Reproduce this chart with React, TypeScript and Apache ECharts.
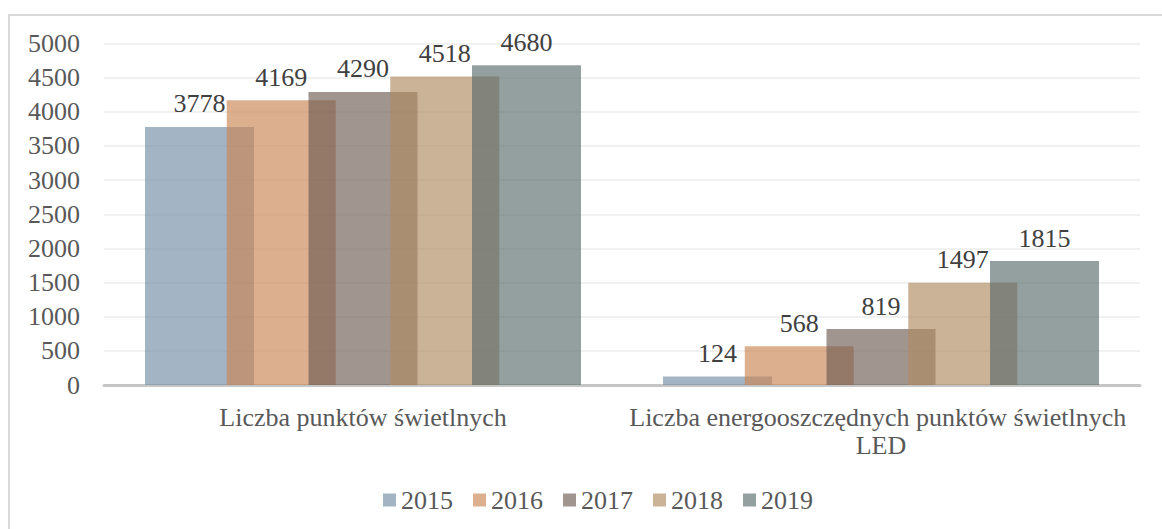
import React, { useEffect, useRef } from "react";
import * as echarts from "echarts";

const categories = [
  "Liczba punktów świetlnych",
  "Liczba energooszczędnych punktów świetlnych LED",
];
const years = ["2015", "2016", "2017", "2018", "2019"];
const values2015 = [3778, 124];
const values2016 = [4169, 568];
const values2017 = [4290, 819];
const values2018 = [4518, 1497];
const values2019 = [4680, 1815];
const seriesValues = [values2015, values2016, values2017, values2018, values2019];
const colors = [
  "rgba(113,140,164,0.65)",
  "rgba(201,132,83,0.65)",
  "rgba(109,92,83,0.65)",
  "rgba(175,138,97,0.65)",
  "rgba(90,107,107,0.65)",
];
const yTicks = { min: 0, max: 5000, interval: 500 };

const FONT = "Liberation Serif";
const FS = 26;

export default function App() {
  const ref = useRef<HTMLDivElement>(null);
  useEffect(() => {
    if (!ref.current) return;
    const chart = echarts.init(ref.current, null, { renderer: "svg" });
    chart.setOption({
      animation: false,
      backgroundColor: "#ffffff",
      color: colors,
      graphic: [
        {
          type: "rect",
          shape: { x: 9, y: 15, width: 1180, height: 540 },
          style: { fill: "none", stroke: "#d9d9d9", lineWidth: 2 },
          silent: true,
          z: -1,
        },
      ],
      legend: {
        data: years,
        left: 378,
        top: 482,
        itemWidth: 13,
        itemHeight: 13,
        itemGap: 20,
        icon: "rect",
        textStyle: { fontFamily: FONT, fontSize: FS, color: "#595959" },
      },
      grid: { left: 104, right: 14, top: 43.5, bottom: 144, containLabel: false },
      xAxis: {
        type: "category",
        data: categories,
        axisLine: { lineStyle: { color: "#c6c6c6", width: 3 } },
        axisTick: { show: false },
        axisLabel: {
          interval: 0,
          margin: 18,
          width: 560,
          overflow: "break",
          lineHeight: 28,
          fontFamily: FONT,
          fontSize: FS,
          color: "#595959",
        },
      },
      yAxis: {
        type: "value",
        min: yTicks.min,
        max: yTicks.max,
        interval: yTicks.interval,
        axisLine: { show: false },
        axisTick: { show: false },
        splitLine: { lineStyle: { color: "#ececec", width: 1.5 } },
        axisLabel: {
          margin: 24,
          fontFamily: FONT,
          fontSize: FS,
          color: "#595959",
          formatter: (v: number) => String(v),
        },
      },
      series: years.map((y, i) => ({
        name: y,
        type: "bar",
        data: seriesValues[i],
        barWidth: 109,
        barGap: "-25%",
        itemStyle: { color: colors[i] },
        label: {
          show: true,
          position: "top",
          distance: 10,
          fontFamily: FONT,
          fontSize: FS,
          color: "#404040",
        },
      })),
    });
    return () => chart.dispose();
  }, []);
  return (
    <div
      ref={ref}
      style={{ position: "absolute", left: 0, top: 0, width: 1162, height: 529 }}
    />
  );
}
